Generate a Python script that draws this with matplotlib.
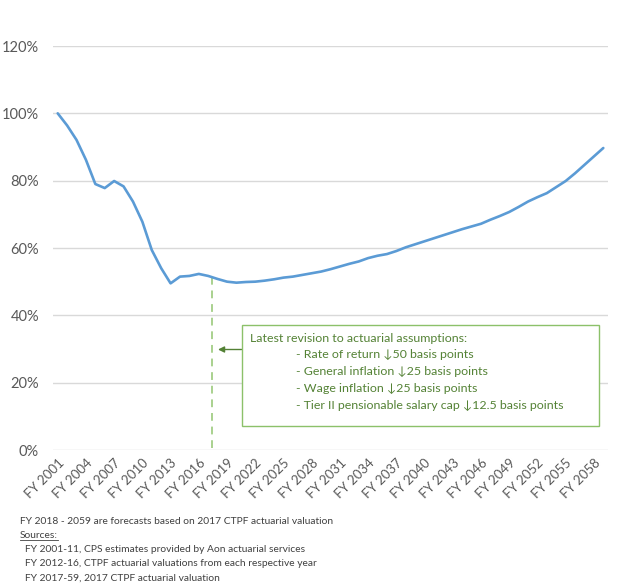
import matplotlib
matplotlib.use("Agg")
import matplotlib.pyplot as plt
from matplotlib.ticker import FuncFormatter

years = list(range(2001, 2060))
funded_ratio = [100.0, 96.4, 92.1, 86.2, 79.0, 77.8, 79.9, 78.3, 73.8, 67.8,
                59.4, 54.0, 49.5, 51.5, 51.7, 52.3, 51.7, 50.8, 50.0, 49.7,
                49.9, 50.0, 50.3, 50.7, 51.2, 51.5, 52.0, 52.5, 53.0, 53.7,
                54.5, 55.3, 56.0, 57.0, 57.7, 58.2, 59.1, 60.2, 61.1, 62.0,
                62.9, 63.8, 64.7, 65.6, 66.4, 67.2, 68.4, 69.5, 70.7, 72.2,
                73.8, 75.1, 76.3, 78.1, 79.9, 82.2, 84.7, 87.2, 89.7]
tick_years = years[::3]
y_ticks = [0, 20, 40, 60, 80, 100, 120]
revision_pos = 16.35  # between FY 2017 and FY 2018
box_title = "Latest revision to actuarial assumptions:"
box_items = ["- Rate of return \u219350 basis points",
             "- General inflation \u219325 basis points",
             "- Wage inflation \u219325 basis points",
             "- Tier II pensionable salary cap \u219312.5 basis points"]
footer_note = "FY 2018 - 2059 are forecasts based on 2017 CTPF actuarial valuation"
sources_title = "Sources:"
sources = ["FY 2001-11, CPS estimates provided by Aon actuarial services",
           "FY 2012-16, CTPF actuarial valuations from each respective year",
           "FY 2017-59, 2017 CTPF actuarial valuation"]

plt.rcParams['font.family'] = ['Lato', 'DejaVu Sans']

W, H = 624, 588
fig = plt.figure(figsize=(W / 100, H / 100), dpi=100)
ax = fig.add_axes([53 / W, 1 - 450 / H, (608 - 53) / W, (450 - 46) / H])

x = list(range(len(years)))
ax.plot(x, funded_ratio, color='#5b9bd5', lw=1.9, solid_capstyle='round',
        solid_joinstyle='round', zorder=3)

ax.set_xlim(-0.5, len(years) - 0.5)
ax.set_ylim(0, 120)
ax.set_yticks(y_ticks)
ax.yaxis.set_major_formatter(FuncFormatter(lambda v, p: f"{int(v)}%"))
ax.grid(axis='y', color='#d9d9d9', lw=1.0)
ax.set_axisbelow(True)
for s in ax.spines.values():
    s.set_visible(False)
ax.tick_params(axis='both', length=0, colors='#595959')
ax.tick_params(axis='y', pad=10, labelsize=10.5)

ax.set_xticks([years.index(y) for y in tick_years])
ax.set_xticklabels([f"FY {y}" for y in tick_years], rotation=45, ha='right',
                   va='top', rotation_mode='anchor', fontsize=9.5)
ax.tick_params(axis='x', pad=5)

# dashed revision line
ax.plot([revision_pos, revision_pos], [0.5, 51.0], color='#a9d18e', lw=1.4,
        ls=(0, (4, 3)), zorder=2)

# annotation box
bx0, bx1 = 241.7, 599.3
by0, by1 = 325, 426
fig.patches.append(plt.Rectangle((bx0 / W, 1 - by1 / H), (bx1 - bx0) / W,
                                 (by1 - by0) / H, transform=fig.transFigure,
                                 fill=True, facecolor='white', edgecolor='#8cc16a',
                                 lw=1.0, zorder=5))
fs_box = 8.9
fig.text(250 / W, 1 - 338 / H, box_title, color='#548235', fontsize=fs_box,
         va='center', ha='left', zorder=6)
for i, t in enumerate(box_items):
    fig.text(296 / W, 1 - (354.5 + 17 * i) / H, t, color='#548235', fontsize=fs_box,
             va='center', ha='left', zorder=6)
ax.annotate('', xy=(218 / W, 1 - 349.5 / H), xycoords='figure fraction',
            xytext=(bx0 / W, 1 - 349.5 / H), textcoords='figure fraction',
            arrowprops=dict(arrowstyle='-|>', color='#538135', lw=1.0,
                            mutation_scale=9, shrinkA=0, shrinkB=0))

# footer
fc = '#404040'
fs_f = 7.4
fig.text(20 / W, 1 - 521.5 / H, footer_note, color=fc, fontsize=fs_f, va='center')
t = fig.text(20 / W, 1 - 535.5 / H, sources_title, color=fc, fontsize=fs_f, va='center')
fig.canvas.draw()
bb = t.get_window_extent()
fig.add_artist(plt.Line2D([bb.x0 / W, bb.x1 / W], [(bb.y0 + 0.5) / H, (bb.y0 + 0.5) / H],
                          transform=fig.transFigure, color=fc, lw=0.6))
for i, s in enumerate(sources):
    fig.text(25 / W, 1 - (549.5 + 14.2 * i) / H, s, color=fc, fontsize=fs_f, va='center')

fig.savefig('out.png', dpi=100, facecolor='white')
